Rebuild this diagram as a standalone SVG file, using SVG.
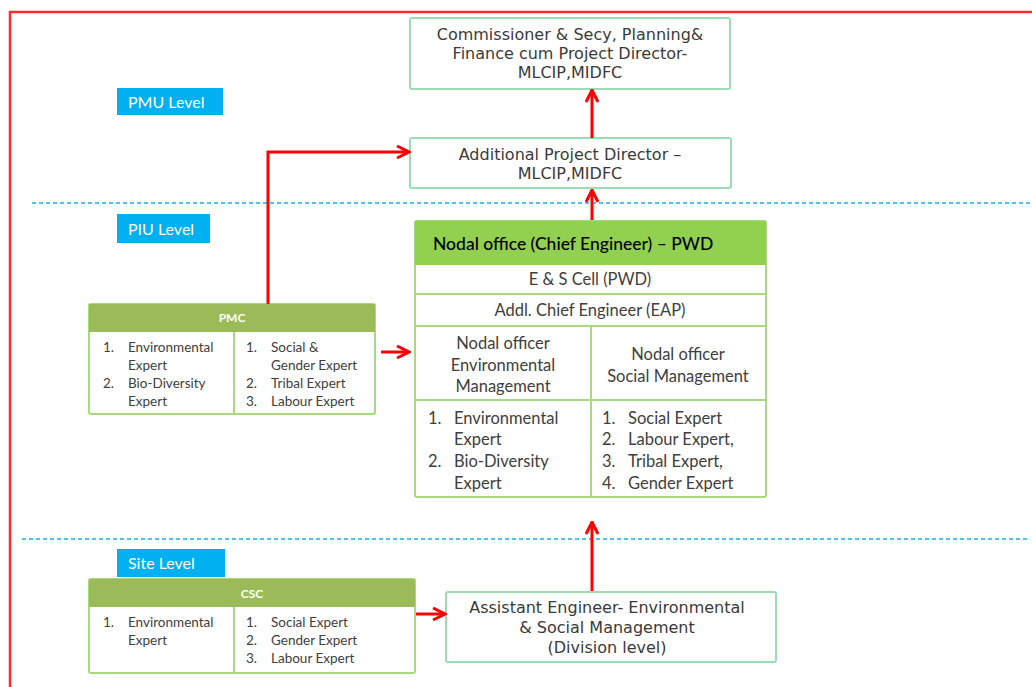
<svg xmlns="http://www.w3.org/2000/svg" width="1032" height="687" viewBox="0 0 1032 687">
<defs>
<marker id="ah" viewBox="0 0 10 10" refX="9" refY="5" markerWidth="5" markerHeight="5" markerUnits="strokeWidth" orient="auto">
<path d="M1,1 L9,5 L1,9" fill="none" stroke="#FF0000" stroke-width="2"/>
</marker>
<style>
.box{fill:#fff;stroke:#9ADDB4;stroke-width:2}
.tbl{fill:#fff;stroke:#A8D97F;stroke-width:2}
.t1{font-family:"DejaVu Sans",Verdana,sans-serif;font-size:16px;fill:#3A3A3A;text-anchor:middle}
.t2{font-family:Lato,"Open Sans",sans-serif;font-size:16.5px;fill:#404040}
.t3{font-family:Lato,"Open Sans",sans-serif;font-size:13.5px;fill:#404040}
.hd{font-family:Lato,"Open Sans",sans-serif;font-size:12px;font-weight:bold;fill:#fff;text-anchor:middle}
.lvl{font-family:Lato,"Open Sans",sans-serif;font-size:16px;fill:#fff}
.c{text-anchor:middle}
.conn{stroke:#FF0000;stroke-width:3;fill:none}
.dot{stroke:#4FC3F7;stroke-width:2;stroke-dasharray:4 3;fill:none}
</style>
</defs>
<path d="M10,687 V12 H1032" fill="none" stroke="#FF2A2A" stroke-width="2.5"/>
<line class="dot" x1="32" y1="203" x2="1032" y2="203"/>
<line class="dot" x1="22" y1="539" x2="1030" y2="539"/>

<g id="lvl-pmu"><rect x="117" y="88" width="106" height="27" fill="#00B0F0"/><text class="lvl" x="128" y="108">PMU Level</text></g>
<g id="lvl-piu"><rect x="117" y="214" width="93" height="29" fill="#00B0F0"/><text class="lvl" x="128" y="235">PIU Level</text></g>
<g id="lvl-site"><rect x="117" y="549" width="108" height="28" fill="#00B0F0"/><text class="lvl" x="128" y="569">Site Level</text></g>

<g id="commissioner">
<rect class="box" x="410" y="18" width="320" height="71" rx="2"/>
<text class="t1" x="570" y="40">Commissioner &amp; Secy, Planning&amp;</text>
<text class="t1" x="570" y="59">Finance cum Project Director-</text>
<text class="t1" x="570" y="78">MLCIP,MIDFC</text>
</g>
<g id="apd">
<rect class="box" x="410" y="138" width="321" height="50" rx="2"/>
<text class="t1" x="570" y="160">Additional Project Director –</text>
<text class="t1" x="570" y="179">MLCIP,MIDFC</text>
</g>

<g id="nodal">
<rect class="tbl" x="415" y="221" width="351" height="276" rx="2"/>
<rect x="415" y="221" width="351" height="44" fill="#92D050"/>
<text x="433" y="250" style="font-family:Lato,'Open Sans',sans-serif;font-size:17.5px;fill:#000;font-weight:500">Nodal office (Chief Engineer) – PWD</text>
<g stroke="#A8D97F" stroke-width="2">
<line x1="415" y1="294" x2="766" y2="294"/>
<line x1="415" y1="326" x2="766" y2="326"/>
<line x1="415" y1="400" x2="766" y2="400"/>
<line x1="591" y1="326" x2="591" y2="497"/>
</g>
<text class="t2 c" x="590" y="285">E &amp; S Cell (PWD)</text>
<text class="t2 c" x="590" y="316">Addl. Chief Engineer (EAP)</text>
<text class="t2 c" x="503" y="349">Nodal officer</text>
<text class="t2 c" x="503" y="371">Environmental</text>
<text class="t2 c" x="503" y="392">Management</text>
<text class="t2 c" x="678" y="360">Nodal  officer</text>
<text class="t2 c" x="678" y="382">Social Management</text>
<text class="t2" x="428" y="424">1.</text><text class="t2" x="454" y="424">Environmental</text>
<text class="t2" x="454" y="445">Expert</text>
<text class="t2" x="428" y="467">2.</text><text class="t2" x="454" y="467">Bio-Diversity</text>
<text class="t2" x="454" y="489">Expert</text>
<text class="t2" x="602" y="424">1.</text><text class="t2" x="628" y="424">Social Expert</text>
<text class="t2" x="602" y="445">2.</text><text class="t2" x="628" y="445">Labour Expert,</text>
<text class="t2" x="602" y="467">3.</text><text class="t2" x="628" y="467">Tribal Expert,</text>
<text class="t2" x="602" y="489">4.</text><text class="t2" x="628" y="489">Gender Expert</text>
</g>

<g id="pmc">
<rect class="tbl" x="89" y="304" width="286" height="110" rx="2"/>
<rect x="89" y="304" width="286" height="28" fill="#9BBB59"/>
<line x1="234" y1="332" x2="234" y2="414" stroke="#A8D97F" stroke-width="2"/>
<text class="hd" x="232" y="322">PMC</text>
<text class="t3" x="103" y="352">1.</text><text class="t3" x="128" y="352">Environmental</text>
<text class="t3" x="128" y="370">Expert</text>
<text class="t3" x="103" y="388">2.</text><text class="t3" x="128" y="388">Bio-Diversity</text>
<text class="t3" x="128" y="406">Expert</text>
<text class="t3" x="246" y="352">1.</text><text class="t3" x="271" y="352">Social &amp;</text>
<text class="t3" x="271" y="370">Gender Expert</text>
<text class="t3" x="246" y="388">2.</text><text class="t3" x="271" y="388">Tribal Expert</text>
<text class="t3" x="246" y="406">3.</text><text class="t3" x="271" y="406">Labour Expert</text>
</g>

<g id="csc">
<rect class="tbl" x="89" y="579" width="326" height="94" rx="2"/>
<rect x="89" y="579" width="326" height="28" fill="#9BBB59"/>
<line x1="234" y1="607" x2="234" y2="673" stroke="#A8D97F" stroke-width="2"/>
<text class="hd" x="252" y="598">CSC</text>
<text class="t3" x="103" y="627">1.</text><text class="t3" x="128" y="627">Environmental</text>
<text class="t3" x="128" y="645">Expert</text>
<text class="t3" x="246" y="627">1.</text><text class="t3" x="271" y="627">Social Expert</text>
<text class="t3" x="246" y="645">2.</text><text class="t3" x="271" y="645">Gender Expert</text>
<text class="t3" x="246" y="663">3.</text><text class="t3" x="271" y="663">Labour Expert</text>
</g>

<g id="ae">
<rect class="box" x="446" y="592" width="330" height="70" rx="2"/>
<text class="t1" x="607" y="613">Assistant Engineer- Environmental</text>
<text class="t1" x="607" y="633">&amp; Social Management</text>
<text class="t1" x="607" y="653">(Division level)</text>
</g>

<g id="connectors">
<line class="conn" x1="592" y1="138" x2="592" y2="90" marker-end="url(#ah)"/>
<line class="conn" x1="592" y1="220" x2="592" y2="190" marker-end="url(#ah)"/>
<path class="conn" d="M268,304 V152 H409" marker-end="url(#ah)"/>
<line class="conn" x1="381" y1="352" x2="409" y2="352" marker-end="url(#ah)"/>
<line class="conn" x1="416" y1="614" x2="445" y2="614" marker-end="url(#ah)"/>
<line class="conn" x1="592" y1="591" x2="592" y2="522" marker-end="url(#ah)"/>
</g>
</svg>
